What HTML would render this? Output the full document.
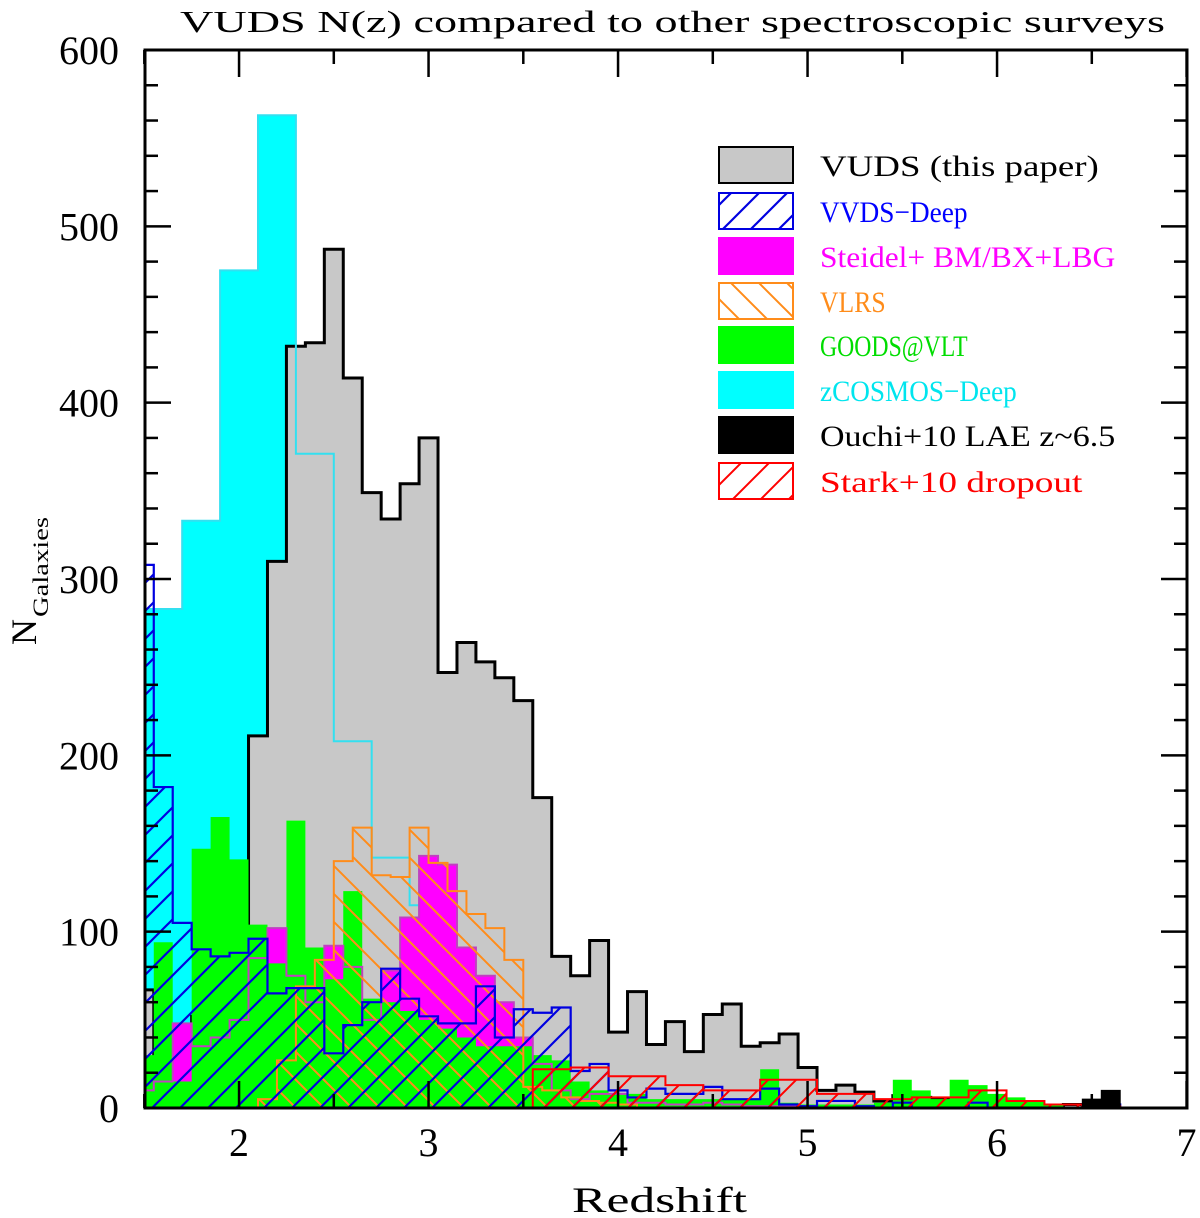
<!DOCTYPE html>
<html><head><meta charset="utf-8"><style>
html,body{margin:0;padding:0;background:#fff;}
svg{display:block;font-family:"Liberation Serif","DejaVu Serif",serif;}
</style></head><body>
<svg id="chart" width="1200" height="1218" viewBox="0 0 1200 1218" xmlns="http://www.w3.org/2000/svg">
<defs>
<clipPath id="plotclip"><rect x="145" y="50" width="1042" height="1058"/></clipPath>
<pattern id="hatchBlue" patternUnits="userSpaceOnUse" width="28" height="28"><path d="M0,28 L28,0 M-7,7 L7,-7 M21,35 L35,21" stroke="#0000e0" stroke-width="2.2"/></pattern>
<pattern id="hatchRed" patternUnits="userSpaceOnUse" width="28" height="28"><path d="M0,28 L28,0 M-7,7 L7,-7 M21,35 L35,21" stroke="#ff0000" stroke-width="2"/></pattern>
<pattern id="hatchOrange" patternUnits="userSpaceOnUse" width="28" height="28"><path d="M0,0 L28,28 M-7,21 L7,35 M21,-7 L35,7" stroke="#ff8c1a" stroke-width="2"/></pattern>
</defs>
<g id="series" clip-path="url(#plotclip)"></g>
<rect x="145" y="50" width="1042" height="1058" fill="none" stroke="#000" stroke-width="3"/>
<g id="ticks"></g>
<text x="180" y="32" font-size="31" textLength="985" lengthAdjust="spacingAndGlyphs">VUDS N(z) compared to other spectroscopic surveys</text>
<text x="572" y="1212" font-size="36" textLength="175" lengthAdjust="spacingAndGlyphs">Redshift</text>
<g transform="translate(36,645) rotate(-90)"><text x="0" y="0" font-size="36">N</text><text x="28" y="12" font-size="22" textLength="100" lengthAdjust="spacingAndGlyphs">Galaxies</text></g>
<g id="legend"></g>
</svg>
<script>
const NS="http://www.w3.org/2000/svg";
// ---- data ----
const vudsStart=1.45, vudsValues=[67,20,25,52,67,101,211,310,432,434,487,414,349,334,354,380,247,264,253,244,231,176,86,75,95,43,66,36,49,32,53,59,35,37,42,23,10,13,9,4,7,6,5,5,5,2,1,1,1,2,1];
const vvdsStart=1.45, vvdsValues=[308,182,105,90,86,88,96,65,68,68,31,47,60,79,62,52,48,48,69,40,56,54,57,21,25,10,6,11,8,8,12,5,5,11,2,1,4,4,1,0,3,0,0,0,3,0,0,0,0,0,2,2];
const steidelStart=1.45, steidelValues=[10,15,48,35,40,50,85,102,75,60,92,80,50,78,108,143,138,91,75,60,40,25,10,5,8,8,3,3,2,2,3,2,1,1,1,1];
const goodsStart=1.45, goodsValues=[30,94,15,147,165,141,104,82,163,91,73,123,62,60,55,50,45,40,35,35,35,30,27,15,10,8,8,5,5,5,5,5,5,22,3,2,2,2,2,3,16,10,5,16,13,8,6,4,2];
const vlrsStart=2.1, vlrsValues=[5,27,69,84,140,159,132,131,159,139,123,110,102,84,12,10,6,4,3,2];
const zcosStart=1.5, zcosValues=[283,333,475,563,371,208,142,115,32,18,4,3,1,1];
const starkStart=3.55, starkValues=[22,22,23,23,18,18,18,13,13,10,10,10,16,16,16,8,8,8,5,5,6,6,6,10,10,4,4,2,2,1,1];
const ouchiStart=6.45, ouchiValues=[5,10];
const xTickLabels=[2,3,4,5,6,7];
const yTickLabels=[0,100,200,300,400,500,600];
const legendLabels=["VUDS (this paper)","VVDS\u2212Deep","Steidel+ BM/BX+LBG","VLRS","GOODS@VLT","zCOSMOS\u2212Deep","Ouchi+10 LAE z~6.5","Stark+10 dropout"];
// ---- scales ----
const X=z=>144.3+(z-1.5)*189.5;
const Y=v=>1108-v*(1058/600);
function stepPath(start,w,vals,closed){
  let d="M"+X(start)+","+Y(0);
  vals.forEach((v,i)=>{const x0=X(start+i*w),x1=X(start+(i+1)*w);d+=" L"+x0+","+Y(v)+" L"+x1+","+Y(v);});
  d+=" L"+X(start+vals.length*w)+","+Y(0);
  if(closed)d+=" Z";
  return d;
}
const g=document.getElementById("series");
function add(name,d,fill,stroke,sw){
  const p=document.createElementNS(NS,"path");
  p.setAttribute("d",d);p.setAttribute("fill",fill);p.setAttribute("stroke",stroke);p.setAttribute("stroke-width",sw);
  
  
  g.appendChild(p);
}
add("zcosmos-fill",stepPath(zcosStart,0.2,zcosValues,true),"#00ffff","none",0);
add("vuds-histogram",stepPath(vudsStart,0.1,vudsValues,true),"#c8c8c8","#000",3);
add("zcosmos-outline",stepPath(zcosStart,0.2,zcosValues,false),"none","#33e0f0",2);
add("steidel-histogram",stepPath(steidelStart,0.1,steidelValues,true),"#ff00ff","none",0);
add("goods-histogram",stepPath(goodsStart,0.1,goodsValues,true),"#00ff00","none",0);
add("steidel-outline",stepPath(steidelStart,0.1,steidelValues,false),"none","#c040c0",2);
add("vlrs-histogram",stepPath(vlrsStart,0.1,vlrsValues,true),"url(#hatchOrange)","#ff8c1a",2);
add("vvds-histogram",stepPath(vvdsStart,0.1,vvdsValues,true),"url(#hatchBlue)","#0000e0",2.2);
add("stark-histogram",stepPath(starkStart,0.1,starkValues,true),"url(#hatchRed)","#ff0000",2);
add("ouchi-histogram",stepPath(ouchiStart,0.1,ouchiValues,true),"#000","#000",1);
// ---- ticks ----
const t=document.getElementById("ticks");
function line(x1,y1,x2,y2,name){const l=document.createElementNS(NS,"line");l.setAttribute("x1",x1);l.setAttribute("y1",y1);l.setAttribute("x2",x2);l.setAttribute("y2",y2);l.setAttribute("stroke","#000");l.setAttribute("stroke-width",2.5);


t.appendChild(l);}
for(let v=0;v<=600;v+=20){const maj=v%100===0,L=maj?26:13;line(145,Y(v),145+L,Y(v),"y-tick");line(1187,Y(v),1187-L,Y(v),"y-tick");}
for(let z=1.5;z<=7.001;z+=0.5){const maj=Math.abs(z-Math.round(z))<1e-6,L=maj?27:14;line(X(z),1108,X(z),1108-L,"x-tick");line(X(z),50,X(z),50+L,"x-tick");}
function txt(parent,x,y,s,size,anchor,fill,name){const e=document.createElementNS(NS,"text");e.setAttribute("x",x);e.setAttribute("y",y);e.setAttribute("font-size",size);e.setAttribute("text-anchor",anchor);e.setAttribute("fill",fill);e.textContent=s;


parent.appendChild(e);return e;}
yTickLabels.forEach(v=>{const e=txt(t,119,Y(v)+14,String(v),40,"end","#000","y-tick-label");});
xTickLabels.forEach(z=>txt(t,X(z),1156,String(z),40,"middle","#000","x-tick-label"));
// ---- legend ----
const lg=document.getElementById("legend");
const legFills=["#c8c8c8","url(#hatchBlue)","#ff00ff","url(#hatchOrange)","#00ff00","#00ffff","#000","url(#hatchRed)"];
const legStrokes=["#000","#0000e0","#ff00ff","#ff8c1a","#00ff00","#00ffff","#000","#ff0000"];
const legText=["#000","#0000ff","#ff00ff","#ff8c1a","#00dd00","#00e5ee","#000","#ff0000"];
const legTops=[147,193,238,283,327,372,417,463];
legendLabels.forEach((s,i)=>{
  const r=document.createElementNS(NS,"rect");
  r.setAttribute("x",719);r.setAttribute("y",legTops[i]);r.setAttribute("width",74);r.setAttribute("height",36);
  r.setAttribute("fill",legFills[i]);r.setAttribute("stroke",legStrokes[i]);r.setAttribute("stroke-width",2);
  
  
  lg.appendChild(r);
  const e=txt(lg,820,legTops[i]+29,s,30,"start",legText[i],"legend-entry");
  e.setAttribute("textLength",s.length*16.4);e.setAttribute("lengthAdjust","spacingAndGlyphs");
});
</script>
</body></html>
